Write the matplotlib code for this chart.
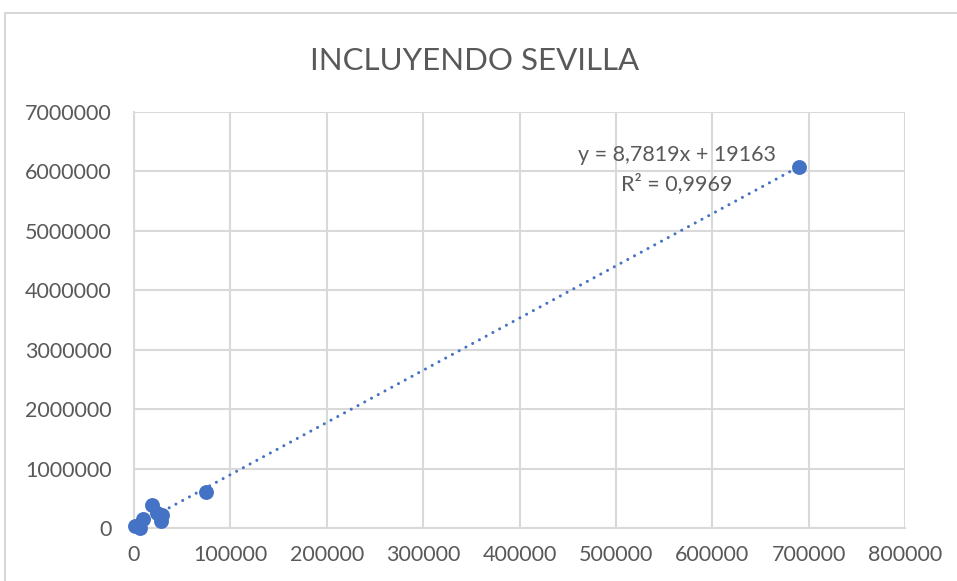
import matplotlib
matplotlib.use("Agg")
import matplotlib.pyplot as plt
import numpy as np
from matplotlib.patches import Rectangle

plt.rcParams['font.family'] = ['Lato', 'DejaVu Sans']

# datos
x_vals = [1500, 6000, 9000, 19000, 24000, 28000, 29000, 75000, 690000]
y_vals = [30000, 5000, 150000, 390000, 250000, 110000, 220000, 610000, 6070000]

# linea de tendencia mostrada
slope = 8.7819
intercept = 19163
r2 = 0.9969

x_ticks = [0, 100000, 200000, 300000, 400000, 500000, 600000, 700000, 800000]
y_ticks = [0, 1000000, 2000000, 3000000, 4000000, 5000000, 6000000, 7000000]

blue = "#4472C4"
grey_txt = "#595959"
grid_c = "#d9d9d9"

fig = plt.figure(figsize=(9.57, 5.81), dpi=100)
ax = fig.add_axes([134/957, 53/581, 771/957, 416/581])

# borde del area del grafico
fig.patches.append(Rectangle((5/957, -0.1), 1.2, (581-13)/581 + 0.1,
                             transform=fig.transFigure, fill=False,
                             edgecolor="#d0d0d0", linewidth=1.2))

xs = np.array([min(x_vals), max(x_vals)])
ax.plot(xs, slope*xs + intercept, linestyle=(0, (0.01, 2.5)),
        color=blue, linewidth=2.2, dash_capstyle="round", zorder=2)
ax.scatter(x_vals, y_vals, s=115, color=blue, zorder=3, linewidths=0,
           clip_on=False)

ax.set_xlim(0, 800000)
ax.set_ylim(0, 7000000)
ax.set_xticks(x_ticks)
ax.set_yticks(y_ticks)
ax.set_xticklabels([str(v) for v in x_ticks])
ax.set_yticklabels([str(v) for v in y_ticks])
ax.tick_params(length=0, labelsize=15.5, colors=grey_txt, pad=16)
ax.tick_params(axis="x", pad=12)
ax.grid(True, color=grid_c, linewidth=1.5)
ax.set_axisbelow(True)
for s in ["top", "right"]:
    ax.spines[s].set_visible(False)
for s in ["left", "bottom"]:
    ax.spines[s].set_color(grid_c)
    ax.spines[s].set_linewidth(1.5)

ax.text(563000, 6280000, "y = 8,7819x + 19163", ha="center", va="center",
        fontsize=15.5, color=grey_txt)
ax.text(563000, 5790000, "R² = 0,9969", ha="center", va="center",
        fontsize=15.5, color=grey_txt)

fig.text(475/957, 1 - 61/581, "INCLUYENDO SEVILLA", ha="center", va="center",
         fontsize=22.5, color=grey_txt)

fig.savefig("out.png", dpi=100)
